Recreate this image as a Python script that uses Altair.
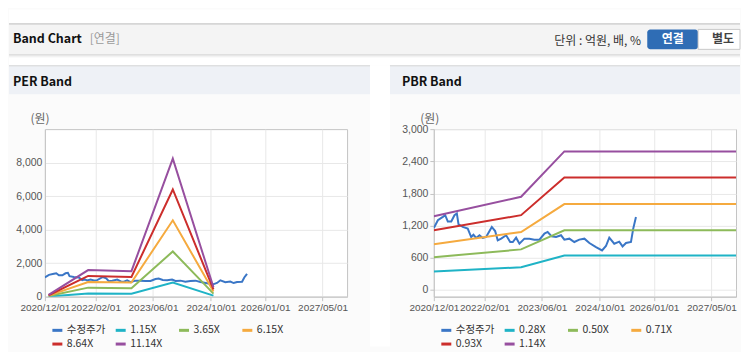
import altair as alt
import pandas as pd

# ---------------- data ----------------
price_dates = ["2020-12-01", "2021-01-04", "2021-02-15", "2021-03-07", "2021-03-29", "2021-04-27",
               "2021-05-24", "2021-06-13", "2021-06-27", "2021-08-02", "2021-09-13", "2021-10-12",
               "2021-10-31", "2021-11-23", "2021-12-21", "2022-01-18", "2022-02-15", "2022-04-04",
               "2022-05-02", "2022-05-24", "2022-06-22", "2022-08-03", "2022-09-06", "2022-09-28",
               "2022-10-26", "2022-11-23", "2023-01-04", "2023-02-15", "2023-03-29", "2023-05-11",
               "2023-06-22", "2023-07-19", "2023-08-22", "2023-09-28", "2023-11-09", "2023-12-07",
               "2024-01-18", "2024-02-29", "2024-04-11", "2024-05-24", "2024-07-05", "2024-08-30",
               "2024-10-20", "2024-11-22", "2024-12-20", "2025-01-31", "2025-03-14", "2025-04-11",
               "2025-05-10", "2025-06-21", "2025-07-10", "2025-08-02"]
price_values = [1157, 1301, 1363, 1395, 1277, 1277, 1395, 1427, 1226, 1176, 1144, 988,
                1030, 970, 1020, 970, 988, 1176, 1100, 926, 957, 1020, 895, 895,
                976, 863, 957, 957, 939, 939, 1051, 1082, 1000, 988, 1020, 939,
                957, 895, 939, 957, 876, 800, 738, 820, 976, 863, 901, 813,
                876, 895, 1145, 1363]

per_names = ["수정주가", "1.15X", "3.65X", "6.15X", "8.64X", "11.14X"]
per_dates = ["2021-01-01", "2021-12-01", "2022-12-01", "2023-11-15", "2024-10-23"]
per_115 = [12, 190, 180, 850, 60]
per_365 = [37, 540, 510, 2700, 185]
per_615 = [62, 880, 840, 4560, 310]
per_864 = [86, 1240, 1180, 6400, 435]
per_1114 = [111, 1590, 1520, 8240, 560]

pbr_names = ["수정주가", "0.28X", "0.50X", "0.71X", "0.93X", "1.14X"]
pbr_dates = ["2020-12-01", "2022-12-07", "2023-12-07", "2027-11-24"]
pbr_028 = [344, 424, 644, 644]
pbr_050 = [612, 757, 1114, 1114]
pbr_071 = [851, 1082, 1602, 1602]
pbr_093 = [1114, 1395, 2096, 2096]
pbr_114 = [1377, 1739, 2585, 2585]

tick_dates = ["2020-12-01", "2022-02-01", "2023-06-01", "2024-10-01", "2026-01-01", "2027-05-01"]
x_domain = ["2020-12-01", "2027-11-24"]
per_ticks = [0, 2000, 4000, 6000, 8000]
per_domain = [0, 10000]
pbr_ticks = [0, 600, 1200, 1800, 2400, 3000]
pbr_domain = [-125, 3000]

colors = ["#3a76c6", "#1fb3c6", "#8dba5a", "#f5aa3f", "#cc2e2c", "#974f9f"]

KR = "Noto Sans CJK KR"
W, H = 303, 168


def dt(s):
    y, m, d = map(int, s.split("-"))
    return alt.DateTime(year=y, month=m, date=d, utc=True)


def long_df(names, band_dates, bands):
    rows = [{"date": d, "value": v, "series": names[0]} for d, v in zip(price_dates, price_values)]
    for name, vals in zip(names[1:], bands):
        rows += [{"date": d, "value": v, "series": name} for d, v in zip(band_dates, vals)]
    return pd.DataFrame(rows)


one = pd.DataFrame({"k": [0]})


def rect(x1, x2, y1, y2, fill, **kw):
    return alt.Chart(one).mark_rect(fill=fill, **kw).encode(
        x=alt.value(x1), x2=alt.value(x2), y=alt.value(y1), y2=alt.value(y2))


def hrule(x1, x2, y, color):
    return alt.Chart(one).mark_rule(color=color, strokeWidth=1).encode(
        x=alt.value(x1), x2=alt.value(x2), y=alt.value(y), y2=alt.value(y))


def text(x, y, s, **kw):
    base = dict(font=KR, fontSize=12, baseline="middle", align="left", color="#333")
    base.update(kw)
    return alt.Chart(one).mark_text(**base).encode(x=alt.value(x), y=alt.value(y), text=alt.value(s))


def panel(names, band_dates, bands, ydom, yticks, ytick_size, ylabel_pad):
    df = long_df(names, band_dates, bands)
    x = alt.X("date:T",
              scale=alt.Scale(type="utc", domain=[dt(s) for s in x_domain], nice=False),
              axis=alt.Axis(values=[dt(s) for s in tick_dates], format="%Y/%m/%d", title=None,
                            labelFont="Liberation Sans", labelFontSize=10, labelColor="#555",
                            labelPadding=2, tickSize=4, tickColor="#c4c4c4", domainColor="#c4c4c4",
                            gridColor="#e8e8e8", labelFlush=False, labelOverlap=False))
    y = alt.Y("value:Q",
              scale=alt.Scale(domain=ydom, nice=False, zero=False),
              axis=alt.Axis(values=yticks, format=",.0f", title=None,
                            labelFont="Liberation Sans", labelFontSize=10.5, labelColor="#555",
                            labelPadding=ylabel_pad, tickSize=ytick_size, tickColor="#c4c4c4",
                            ticks=ytick_size > 0, domainColor="#c4c4c4", gridColor="#e8e8e8"))
    color = alt.Color("series:N",
                      scale=alt.Scale(domain=names, range=colors),
                      sort=names,
                      legend=alt.Legend(title=None, orient="none", legendX=6, legendY=195,
                                        columns=4, direction="horizontal", symbolType="stroke",
                                        symbolSize=100, symbolStrokeWidth=3, labelFont=KR,
                                        labelFontSize=10.5, labelColor="#333", columnPadding=3.5,
                                        rowPadding=1, gridAlign="all", labelOffset=3, padding=0))
    lines = alt.Chart(df).mark_line(strokeWidth=2, clip=True).encode(x=x, y=y, color=color)
    return lines


# ---------------- left panel (PER) ----------------
per_lines = panel(per_names, per_dates, [per_115, per_365, per_615, per_864, per_1114],
                  per_domain, per_ticks, 0, 3)
left_decos = [
    rect(-36, 697, -120, -106, "white"),
    rect(-36, 697, -106, -75, "#f4f4f4"),
    hrule(-36, 697, -105.5, "#bdbdbd"),
    rect(-36, 697, -75, -64, "white"),
    hrule(-36, 697, -74.5, "#cfcfcf"),
    hrule(-36, 697, -73.5, "#e2e2e2"),
    hrule(-36, 697, -72.5, "#f0f0f0"),
    rect(326, 346, -64, 218, "white"),
    rect(-36, 326, -64, -35, "#eef1f6"),
    hrule(-36, 326, -63.5, "#d6d6d6"),
    text(-32, -90, "Band Chart", fontSize=12.5, fontWeight="bold", color="#111"),
    text(45, -90, "[연결]", fontSize=12, color="#9a9a9a"),
    text(-32, -47, "PER Band", fontSize=12.5, fontWeight="bold", color="#111"),
    text(-5, -10, "(원)", align="center", color="#666"),
]
left = alt.layer(*left_decos, per_lines).properties(width=W, height=H)

# ---------------- right panel (PBR) ----------------
pbr_lines = panel(pbr_names, pbr_dates, [pbr_028, pbr_050, pbr_071, pbr_093, pbr_114],
                  pbr_domain, pbr_ticks, 4, 2)
right_decos = [
    rect(-44, 307, -64, -35, "#eef1f6"),
    hrule(-44, 307, -63.5, "#d6d6d6"),
    text(207.7, -88, "단위 : 억원, 배, %", align="right", color="#333"),
    rect(214, 265, -100, -80, "#2f6db5", cornerRadius=3),
    text(239.5, -90, "연결", align="center", fontWeight="bold", color="white"),
    rect(265, 307, -100, -80, "white", stroke="#c9c9c9", strokeWidth=1),
    text(290, -90, "별도", align="center", fontWeight="bold", color="#444"),
    text(-32, -47, "PBR Band", fontSize=12.5, fontWeight="bold", color="#111"),
    text(-4, -10, "(원)", align="center", color="#666"),
]
right = alt.layer(*right_decos, pbr_lines).properties(width=W, height=H)

chart = (alt.hconcat(left, right, spacing=87, bounds="flush")
         .resolve_scale(color="independent")
         .properties(padding=0, background="#fbfbfb")
         .configure_view(fill="white", stroke="#c4c4c4", strokeWidth=1))

chart.save("out.html", embed_options={"renderer": "svg", "actions": False})
